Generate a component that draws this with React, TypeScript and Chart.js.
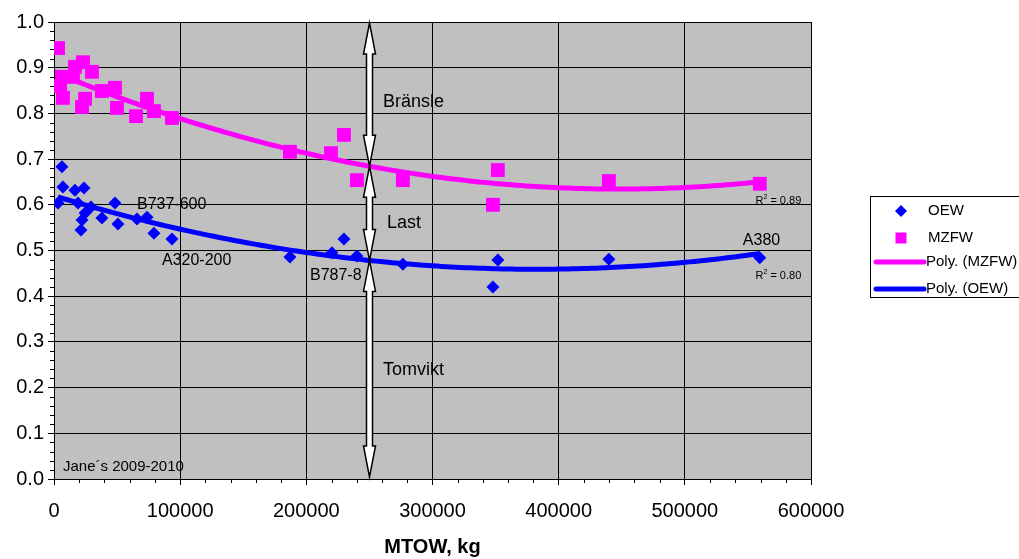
import React, { useEffect, useRef } from "react";
import { Chart, registerables } from "chart.js";

Chart.register(...registerables);

const FONT = '"Liberation Sans", Arial, Helvetica, sans-serif';

// ---- Data ----
const mtowOEW = [
  6300, 7100, 3200, 16600, 23800, 19000, 29300, 24600, 22200, 21400, 38000, 48300, 50700,
  65800, 73700, 79200, 93500, 187000, 220300, 229800, 240100, 276500, 351800, 347900,
  439800, 559400,
];
const oewRatio = [
  0.683, 0.639, 0.604, 0.632, 0.637, 0.604, 0.595, 0.582, 0.567, 0.545, 0.571, 0.604, 0.558,
  0.569, 0.573, 0.538, 0.525, 0.486, 0.495, 0.525, 0.488, 0.47, 0.479, 0.42, 0.481, 0.484,
];
const mtowMZFW = [
  3200, 6300, 4800, 7100, 15000, 16600, 23000, 30100, 24600, 22200, 38000, 48300, 49900,
  65000, 73700, 79200, 93500, 187000, 219500, 229800, 240100, 276500, 351800, 347900,
  439800, 559400,
];
const mzfwRatio = [
  0.943, 0.88, 0.86, 0.834, 0.88, 0.902, 0.912, 0.891, 0.832, 0.814, 0.849, 0.856, 0.812,
  0.794, 0.832, 0.805, 0.79, 0.716, 0.713, 0.753, 0.654, 0.654, 0.676, 0.6, 0.652, 0.646,
];
const xTickValues = [0, 100000, 200000, 300000, 400000, 500000, 600000];
const yTickValues = [0, 0.1, 0.2, 0.3, 0.4, 0.5, 0.6, 0.7, 0.8, 0.9, 1.0];
const legendLabels = ["OEW", "MZFW", "Poly. (MZFW)", "Poly. (OEW)"];
const r2MZFW = "0.89";
const r2OEW = "0.80";
const arrowMTOW = 250000;

// text annotations: [text, x value, y value, font size]
const annotations: [string, number, number, number][] = [
  ["B737-600", 65800, 0.6, 16],
  ["A320-200", 85600, 0.477, 16],
  ["B787-8", 202900, 0.446, 16],
  ["A380", 546000, 0.521, 16],
  ["Bränsle", 260700, 0.825, 18],
  ["Last", 263900, 0.56, 18],
  ["Tomvikt", 260700, 0.2385, 18],
  ["Jane´s 2009-2010", 7100, 0.026, 15],
];

// ---- least-squares quadratic (Excel "Poly." trendline, order 2) ----
function fitQuadratic(xs: number[], ys: number[]) {
  const s = 1e5;
  const S = [0, 0, 0, 0, 0];
  const T = [0, 0, 0];
  xs.forEach((x0, i) => {
    const x = x0 / s;
    let p = 1;
    for (let k = 0; k < 5; k++) {
      S[k] += p;
      if (k < 3) T[k] += p * ys[i];
      p *= x;
    }
  });
  const A = [
    [S[0], S[1], S[2], T[0]],
    [S[1], S[2], S[3], T[1]],
    [S[2], S[3], S[4], T[2]],
  ];
  for (let c = 0; c < 3; c++) {
    for (let r = c + 1; r < 3; r++) {
      const f = A[r][c] / A[c][c];
      for (let k = c; k < 4; k++) A[r][k] -= f * A[c][k];
    }
  }
  const b = [0, 0, 0];
  for (let r = 2; r >= 0; r--) {
    let v = A[r][3];
    for (let k = r + 1; k < 3; k++) v -= A[r][k] * b[k];
    b[r] = v / A[r][r];
  }
  return (x: number) => {
    const t = x / s;
    return b[0] + b[1] * t + b[2] * t * t;
  };
}

function trendPoints(xs: number[], f: (x: number) => number) {
  const lo = Math.min(...xs);
  const hi = Math.max(...xs);
  const pts: { x: number; y: number }[] = [];
  const n = 150;
  for (let i = 0; i <= n; i++) {
    const x = lo + ((hi - lo) * i) / n;
    pts.push({ x, y: f(x) });
  }
  return pts;
}

export default function App() {
  const ref = useRef<HTMLCanvasElement | null>(null);

  useEffect(() => {
    const canvas = ref.current;
    if (!canvas) return;
    const fOEW = fitQuadratic(mtowOEW, oewRatio);
    const fMZFW = fitQuadratic(mtowMZFW, mzfwRatio);

    const bgPlugin = {
      id: "plotBg",
      beforeDraw(chart: any) {
        const { ctx, chartArea: a } = chart;
        ctx.save();
        ctx.fillStyle = "#C0C0C0";
        ctx.fillRect(a.left, a.top, a.right - a.left, a.bottom - a.top);
        ctx.restore();
      },
    };

    const overlayPlugin = {
      id: "overlay",
      afterDatasetsDraw(chart: any) {
        const { ctx, chartArea: a, scales } = chart;
        const xs = scales.x;
        const ys = scales.y;
        ctx.save();
        // minor ticks
        ctx.strokeStyle = "#000";
        ctx.lineWidth = 1;
        ctx.beginPath();
        for (let i = 0; i <= 50; i++) {
          if (i % 5 === 0) continue;
          const py = Math.round(ys.getPixelForValue(i * 0.02)) + 0.5;
          ctx.moveTo(a.left - 4, py);
          ctx.lineTo(a.left, py);
        }
        for (let i = 0; i <= 30; i++) {
          if (i % 5 === 0) continue;
          const px = Math.round(xs.getPixelForValue(i * 20000)) + 0.5;
          ctx.moveTo(px, a.bottom);
          ctx.lineTo(px, a.bottom + 4);
        }
        ctx.stroke();

        // arrows
        const ax = Math.round(xs.getPixelForValue(arrowMTOW)) + 0.5;
        const yTop = ys.getPixelForValue(1.0) + 1;
        const yM1 = ys.getPixelForValue(fMZFW(arrowMTOW));
        const yM2 = ys.getPixelForValue(fOEW(arrowMTOW));
        const yBot = ys.getPixelForValue(0) - 2;
        const drawArrow = (t: number, b: number) => {
          const hw = 6;
          const sw = 3;
          const hl = Math.min(31, (b - t) / 2.3);
          ctx.beginPath();
          ctx.moveTo(ax, t);
          ctx.lineTo(ax + hw, t + hl);
          ctx.lineTo(ax + sw, t + hl);
          ctx.lineTo(ax + sw, b - hl);
          ctx.lineTo(ax + hw, b - hl);
          ctx.lineTo(ax, b);
          ctx.lineTo(ax - hw, b - hl);
          ctx.lineTo(ax - sw, b - hl);
          ctx.lineTo(ax - sw, t + hl);
          ctx.lineTo(ax - hw, t + hl);
          ctx.closePath();
          ctx.fillStyle = "#FFFFFF";
          ctx.fill();
          ctx.strokeStyle = "#000";
          ctx.lineWidth = 1.5;
          ctx.lineJoin = "miter";
          ctx.stroke();
        };
        drawArrow(yTop, yM1);
        drawArrow(yM1, yM2);
        drawArrow(yM2, yBot);

        // annotations
        ctx.fillStyle = "#000";
        ctx.textBaseline = "middle";
        ctx.textAlign = "left";
        annotations.forEach(([txt, x, y, size]) => {
          ctx.font = `${size}px ${FONT}`;
          ctx.fillText(txt, xs.getPixelForValue(x), ys.getPixelForValue(y));
        });

        // R² labels
        const drawR2 = (val: string, x: number, y: number) => {
          let px = xs.getPixelForValue(x);
          const py = ys.getPixelForValue(y);
          ctx.font = `11px ${FONT}`;
          ctx.fillText("R", px, py);
          px += ctx.measureText("R").width;
          ctx.font = `7px ${FONT}`;
          ctx.fillText("2", px, py - 4);
          px += ctx.measureText("2").width;
          ctx.font = `11px ${FONT}`;
          ctx.fillText(" = " + val, px, py);
        };
        drawR2(r2MZFW, 556000, 0.608);
        drawR2(r2OEW, 556000, 0.444);
        ctx.restore();
      },
      afterDraw(chart: any) {
        const { ctx } = chart;
        ctx.save();
        // legend box
        ctx.strokeStyle = "#000";
        ctx.lineWidth = 1;
        ctx.strokeRect(870.5, 196.5, 180, 101);
        const rows = [211, 238, 262, 289];
        ctx.font = `15px ${FONT}`;
        ctx.textBaseline = "middle";
        ctx.textAlign = "left";
        // OEW diamond
        ctx.fillStyle = "#0000FF";
        ctx.beginPath();
        ctx.moveTo(901, rows[0] - 6);
        ctx.lineTo(907, rows[0]);
        ctx.lineTo(901, rows[0] + 6);
        ctx.lineTo(895, rows[0]);
        ctx.closePath();
        ctx.fill();
        // MZFW square
        ctx.fillStyle = "#FF00FF";
        ctx.fillRect(895.5, rows[1] - 5.5, 11, 11);
        // lines
        ctx.lineCap = "round";
        ctx.lineWidth = 5;
        ctx.strokeStyle = "#FF00FF";
        ctx.beginPath();
        ctx.moveTo(876, rows[2]);
        ctx.lineTo(924, rows[2]);
        ctx.stroke();
        ctx.strokeStyle = "#0000FF";
        ctx.beginPath();
        ctx.moveTo(876, rows[3]);
        ctx.lineTo(924, rows[3]);
        ctx.stroke();
        ctx.fillStyle = "#000";
        ctx.fillText(legendLabels[0], 928, rows[0]);
        ctx.fillText(legendLabels[1], 928, rows[1]);
        ctx.fillText(legendLabels[2], 926, rows[2]);
        ctx.fillText(legendLabels[3], 926, rows[3]);
        ctx.restore();
      },
    };

    const chart = new Chart(canvas, {
      type: "scatter",
      data: {
        datasets: [
          {
            label: legendLabels[3],
            data: trendPoints(mtowOEW, fOEW),
            showLine: true,
            borderColor: "#0000FF",
            borderWidth: 5,
            pointRadius: 0,
            fill: false,
          } as any,
          {
            label: legendLabels[2],
            data: trendPoints(mtowMZFW, fMZFW),
            showLine: true,
            borderColor: "#FF00FF",
            borderWidth: 5,
            pointRadius: 0,
            fill: false,
          } as any,
          {
            label: legendLabels[0],
            data: mtowOEW.map((x, i) => ({ x, y: oewRatio[i] })),
            pointStyle: "rectRot",
            pointRadius: 6.5,
            backgroundColor: "#0000FF",
            borderColor: "#0000FF",
            borderWidth: 0,
          },
          {
            label: legendLabels[1],
            data: mtowMZFW.map((x, i) => ({ x, y: mzfwRatio[i] })),
            pointStyle: "rect",
            pointRadius: 9.8,
            backgroundColor: "#FF00FF",
            borderColor: "#FF00FF",
            borderWidth: 0,
          },
        ],
      },
      options: {
        responsive: false,
        animation: false,
        devicePixelRatio: 1,
        layout: { padding: { left: 0, right: 208, top: 22, bottom: 0 } },
        plugins: {
          legend: { display: false },
          tooltip: { enabled: false },
        },
        scales: {
          x: {
            type: "linear",
            min: 0,
            max: 600000,
            afterFit: (s: any) => {
              s.height = 80;
            },
            afterBuildTicks: (s: any) => {
              s.ticks = xTickValues.map((v) => ({ value: v }));
            },
            ticks: {
              color: "#000",
              font: { family: FONT, size: 20 },
              padding: 14,
              maxRotation: 0,
              autoSkip: false,
              callback: (v: any) => String(v),
            },
            grid: { color: "#000", lineWidth: 1, tickLength: 6, tickColor: "#000" },
            border: { color: "#000", width: 1 },
            title: {
              display: true,
              text: "MTOW, kg",
              color: "#000",
              font: { family: FONT, size: 20, weight: "bold" },
              padding: { top: 0, bottom: 0 },
            },
          },
          y: {
            type: "linear",
            min: 0,
            max: 1,
            afterFit: (s: any) => {
              s.width = 54;
            },
            afterBuildTicks: (s: any) => {
              s.ticks = yTickValues.map((v) => ({ value: v }));
            },
            ticks: {
              color: "#000",
              font: { family: FONT, size: 20 },
              padding: 4,
              callback: (v: any) => Number(v).toFixed(1),
            },
            grid: { color: "#000", lineWidth: 1, tickLength: 6, tickColor: "#000" },
            border: { color: "#000", width: 1 },
          },
        },
      } as any,
      plugins: [bgPlugin, overlayPlugin],
    });
    return () => chart.destroy();
  }, []);

  return (
    <div style={{ position: "absolute", left: 0, top: 0, width: 1019, height: 559, background: "#fff" }}>
      <canvas ref={ref} width={1019} height={559} style={{ display: "block" }} />
    </div>
  );
}
